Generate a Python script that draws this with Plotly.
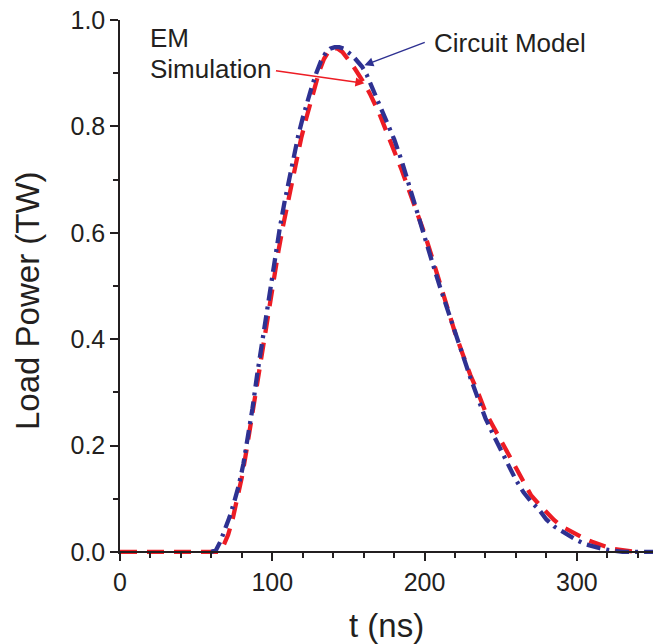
import plotly.graph_objects as go

# Circuit model (blue, dash-dot)
t_circuit = [60, 63, 66, 69, 72, 75, 78, 81, 84, 87, 90, 93, 96, 99, 102, 105, 108, 111, 114, 117,
             120, 123, 126, 129, 132, 135, 138, 141, 144, 147, 150, 153, 156, 159, 162, 165, 168, 171,
             175, 180, 185, 190, 195, 200, 205, 210, 215, 220, 225, 230, 235, 240, 245, 250, 255, 260,
             265, 270, 275, 280, 285, 290, 295, 300, 305, 310, 315, 320, 325, 330, 340, 350]
p_circuit = [0, 0.003, 0.02, 0.042, 0.066, 0.094, 0.125, 0.165, 0.212, 0.27, 0.332, 0.388, 0.447, 0.503,
             0.558, 0.61, 0.657, 0.70, 0.742, 0.782, 0.816, 0.847, 0.875, 0.901, 0.923, 0.938, 0.946,
             0.949, 0.949, 0.946, 0.94, 0.932, 0.922, 0.912, 0.897, 0.877, 0.858, 0.84,
             0.813, 0.776, 0.735, 0.686, 0.641, 0.593, 0.545, 0.499, 0.456, 0.412, 0.366, 0.328, 0.289,
             0.251, 0.221, 0.193, 0.165, 0.135, 0.112, 0.094, 0.08, 0.061, 0.048, 0.039, 0.03, 0.022,
             0.015, 0.01, 0.007, 0.004, 0.002, 0, 0, 0]

# EM simulation (red, dashed)
t_em = [0, 20, 40, 60, 65, 68, 71, 74, 77, 80, 83, 86, 89, 92, 95, 98, 101, 104, 107, 110, 113, 116,
        119, 122, 125, 128, 131, 134, 137, 140, 143, 146, 149, 152, 155, 158, 161, 164, 167, 170, 175,
        180, 185, 190, 195, 200, 205, 210, 215, 220, 225, 230, 235, 240, 245, 250, 255, 260, 265, 270,
        275, 280, 285, 290, 295, 300, 305, 310, 315, 320, 325, 330, 335, 339]
p_em = [0, 0, 0, 0, 0, 0.012, 0.032, 0.062, 0.1, 0.14, 0.19, 0.245, 0.29, 0.35, 0.41, 0.463, 0.515,
        0.565, 0.612, 0.655, 0.70, 0.74, 0.778, 0.812, 0.845, 0.877, 0.905, 0.927, 0.941, 0.947, 0.946,
        0.94, 0.93, 0.918, 0.905, 0.892, 0.878, 0.862, 0.845, 0.826, 0.79, 0.755, 0.718, 0.678, 0.64,
        0.598, 0.553, 0.506, 0.457, 0.412, 0.372, 0.333, 0.3, 0.263, 0.236, 0.21, 0.183, 0.155, 0.128,
        0.106, 0.09, 0.074, 0.06, 0.048, 0.04, 0.033, 0.025, 0.019, 0.013, 0.009, 0.005, 0.003, 0.001, 0]

x_ticks = [0, 100, 200, 300]
y_ticks = [0.0, 0.2, 0.4, 0.6, 0.8, 1.0]
y_labels = ["0.0", "0.2", "0.4", "0.6", "0.8", "1.0"]

BLUE = "#2E3192"
RED = "#ED1C24"
TXT = "#231F20"
FONT = "Liberation Sans, Arial, sans-serif"

fig = go.Figure()
fig.add_trace(go.Scatter(x=t_em, y=p_em, mode="lines", name="EM Simulation",
                         line=dict(color=RED, width=4.3, dash="17px,10px")))
fig.add_trace(go.Scatter(x=t_circuit, y=p_circuit, mode="lines", name="Circuit Model",
                         line=dict(color=BLUE, width=4.3, dash="14px,6px,3px,6px")))

fig.update_layout(
    width=653, height=644,
    margin=dict(l=120, r=0, t=20, b=90),
    paper_bgcolor="white", plot_bgcolor="white",
    showlegend=False,
    font=dict(family=FONT, color=TXT),
    xaxis=dict(range=[0, 350], tickvals=x_ticks, ticks="outside", ticklen=8, tickwidth=1.5,
               tickcolor=TXT, showline=True, linecolor=TXT, linewidth=1.5, showgrid=False,
               zeroline=False, tickfont=dict(size=25, family=FONT, color=TXT),
               anchor="free", position=0.004 / 1.004,
               minor=dict(dtick=20, ticks="outside", ticklen=5, tickwidth=1.5, tickcolor=TXT,
                          showgrid=False)),
    yaxis=dict(range=[-0.004, 1.0], tickvals=y_ticks, ticktext=y_labels, ticks="outside", ticklen=8,
               tickwidth=1.5, tickcolor=TXT, showline=True, linecolor=TXT, linewidth=1.5,
               showgrid=False, zeroline=False, tickfont=dict(size=25, family=FONT, color=TXT),
               minor=dict(dtick=0.1, tick0=0, ticks="outside", ticklen=5, tickwidth=1.5,
                          tickcolor=TXT, showgrid=False)),
)

# axis titles
fig.add_annotation(text="t (ns)", xref="paper", yref="paper", x=0.5, y=(554 - 626) / 534,
                   xanchor="center", yanchor="middle", showarrow=False,
                   font=dict(size=33, family=FONT, color=TXT))
fig.add_annotation(text="Load Power (TW)", xref="paper", yref="paper", x=(27 - 120) / 533,
                   y=(554 - 301) / 534, xanchor="center", yanchor="middle", textangle=-90,
                   showarrow=False, font=dict(size=33, family=FONT, color=TXT))

# labels
fig.add_annotation(text="EM", xref="paper", yref="paper", x=(148 - 120) / 533, y=(554 - 37.5) / 534,
                   xanchor="left", yanchor="middle", showarrow=False,
                   font=dict(size=26, family=FONT, color=TXT))
fig.add_annotation(text="Simulation", xref="paper", yref="paper", x=(148 - 120) / 533,
                   y=(554 - 69) / 534, xanchor="left", yanchor="middle", showarrow=False,
                   font=dict(size=26, family=FONT, color=TXT))
fig.add_annotation(text="Circuit Model", xref="paper", yref="paper", x=(432 - 120) / 533,
                   y=(554 - 43.3) / 534, xanchor="left", yanchor="middle", showarrow=False,
                   font=dict(size=26, family=FONT, color=TXT))

# arrows
fig.add_annotation(text="", x=160.5, y=0.881, ax=101.4, ay=0.905, xref="x", yref="y",
                   axref="x", ayref="y", showarrow=True, arrowhead=2, arrowsize=1.2,
                   arrowwidth=1.5, arrowcolor=RED, standoff=0, startstandoff=0)
fig.add_annotation(text="", x=160.5, y=0.915, ax=201.1, ay=0.959, xref="x", yref="y",
                   axref="x", ayref="y", showarrow=True, arrowhead=2, arrowsize=1.2,
                   arrowwidth=1.5, arrowcolor=BLUE, standoff=0, startstandoff=0)

fig.write_html(
    "out.html",
    config={"displayModeBar": False},
    post_script="document.documentElement.style.margin='0';document.body.style.margin='0';"
                "document.body.style.padding='0';document.body.style.overflow='hidden';",
)
